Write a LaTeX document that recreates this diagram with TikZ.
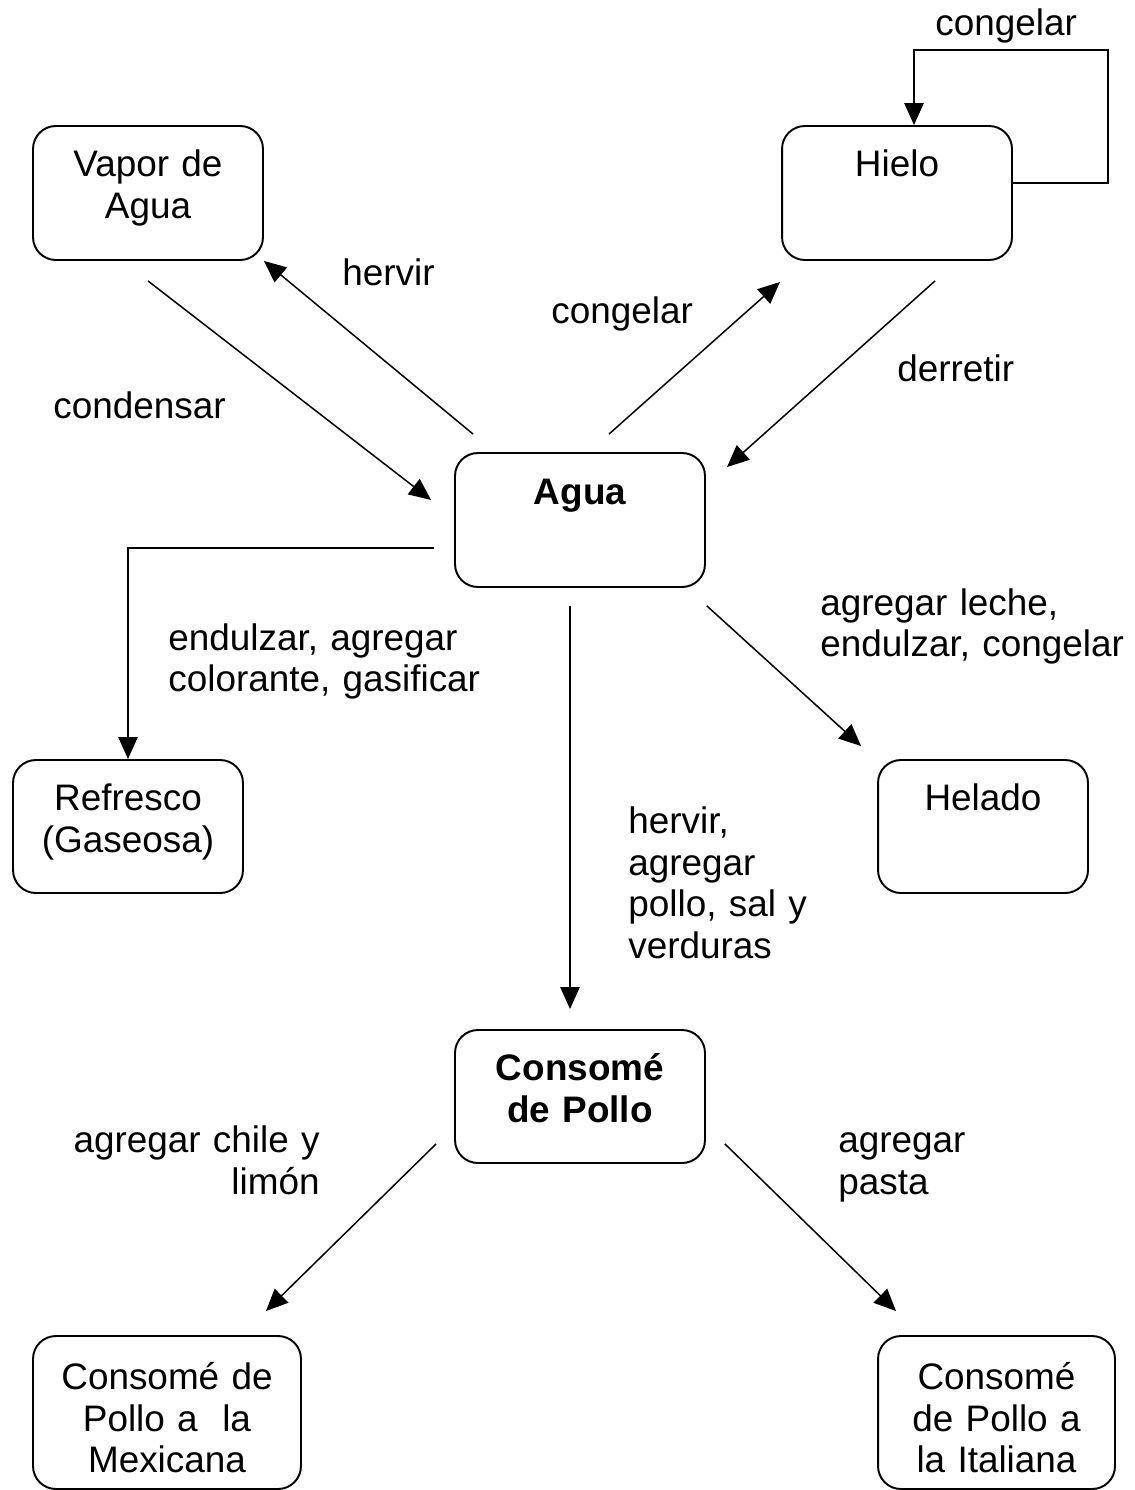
\documentclass[tikz,border=0pt]{standalone}
\usepackage{fontspec}
\setmainfont{Liberation Sans}
\usetikzlibrary{arrows.meta,calc}
\tikzset{
	caja/.style={draw, line width=1.1pt, rounded corners=13pt, minimum width=4.6cm, minimum height=2.68cm},
	rotulo/.style={inner sep=0pt, text width=#1, align=center, anchor=base},
	etiqueta/.style={inner sep=0pt, text width=7cm, align=left, anchor=base west},
	flecha/.style={-{Triangle[length=12.5pt,width=11pt]}, line width=0.85pt}
}
\begin{document}
\begin{tikzpicture}[x=0.02cm, y=-0.02cm, font=\fontsize{21}{23.9}\selectfont]
	\useasboundingbox (0,0) rectangle (1135,1490);

	\node[caja] (vapor) at (148,193) {};
	\node[caja] (hielo) at (897,193) {};
	\node[caja, minimum width=5cm] (agua) at (580,520) {};
	\node[caja, minimum height=2.66cm] (refresco) at (128,826.5) {};
	\node[caja, minimum width=4.2cm, minimum height=2.66cm] (helado) at (983,826.5) {};
	\node[caja, minimum width=5cm, minimum height=2.66cm] (consome) at (580,1096.5) {};
	\node[caja, minimum width=5.36cm, minimum height=3.06cm] (mexicana) at (167,1412.5) {};
	\node[caja, minimum width=4.74cm, minimum height=3.06cm] (italiana) at (996.5,1412.5) {};

	\node[rotulo=4.6cm] (tvapor) at (148,177) {Vapor de\\Agua};
	\node[rotulo=4.6cm] (thielo) at (897,177) {Hielo};
	\node[rotulo=5cm, font=\fontsize{21}{23.9}\selectfont\bfseries] (tagua) at (580,504) {Agua};
	\node[rotulo=4.6cm] (trefresco) at (128,810) {Refresco\\(Gaseosa)};
	\node[rotulo=4.2cm] (thelado) at (983,810) {Helado};
	\node[rotulo=5cm, font=\fontsize{21}{23.9}\selectfont\bfseries] (tconsome) at (580,1080) {Consomé\\de Pollo};
	\node[rotulo=5.36cm] (tmexicana) at (167,1389) {Consomé de\\Pollo a~~la\\Mexicana};
	\node[rotulo=4.74cm] (titaliana) at (996.5,1389) {Consomé\\de Pollo a\\la Italiana};

	\node[etiqueta] (lhervir) at (342,285) {hervir};
	\node[etiqueta] (lcondensar) at (53,418) {condensar};
	\node[etiqueta] (lcongelar) at (551,323) {congelar};
	\node[etiqueta] (lderretir) at (897,381) {derretir};
	\node[etiqueta] (lcongelarb) at (935,36) {congelar};
	\node[etiqueta] (lrefresco) at (168,650) {endulzar, agregar\\colorante, gasificar};
	\node[etiqueta] (lhelado) at (820,615) {agregar leche,\\endulzar, congelar};
	\node[etiqueta] (lconsome) at (628,833) {hervir,\\agregar\\pollo, sal y\\verduras};
	\node[etiqueta, align=right, anchor=base east] (lmexicana) at (320,1152) {agregar chile y\\limón};
	\node[etiqueta] (litaliana) at (838,1152) {agregar\\pasta};

	\coordinate (bucle) at (1108,50);

	\draw[flecha] ($(vapor.south)+(0,20)$) -- ($(agua.west)+(-23,-20)$);
	\draw[flecha] ($(agua.north west)+(19,-18)$) -- (vapor.south east);
	\draw[flecha] ($(agua.north)+(29,-18)$) -- ($(hielo.south west)+(-1,21)$);
	\draw[flecha] ($(hielo.south)+(38,20)$) -- ($(agua.north east)+(21,15)$);
	\draw[flecha] ($(hielo.east)+(0,-10)$) -| (bucle) -| ($(hielo.north)+(17,0)$);
	\draw[flecha] ($(agua.west)+(-20,28)$) -| (refresco.north);
	\draw[flecha] ($(agua.south)+(-10,18)$) -- ($(consome.north)+(-10,-20)$);
	\draw[flecha] ($(agua.south east)+(1,18)$) -- ($(helado.north west)+(-16,-13)$);
	\draw[flecha] ($(consome.south west)+(-18,-20)$) -- ($(mexicana.north east)+(-36,-24)$);
	\draw[flecha] ($(consome.south east)+(19,-20)$) -- ($(italiana.north west)+(19,-24)$);
\end{tikzpicture}
\end{document}
